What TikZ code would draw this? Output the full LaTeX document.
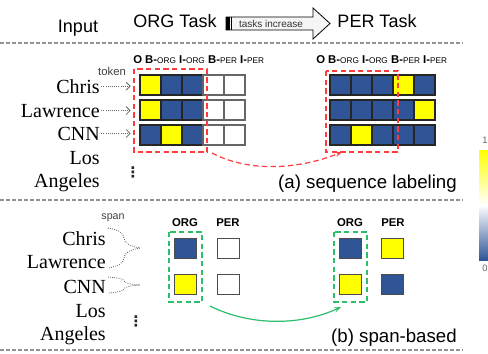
\documentclass[tikz,border=0pt]{standalone}
\usepackage{fontspec}
\setmainfont{Liberation Serif}
\setsansfont{Liberation Sans}
\newfontfamily\symfont{DejaVu Sans}
\usepackage{tikz}
\usepackage{xcolor}
\usetikzlibrary{shapes.geometric, arrows}
\usetikzlibrary{calc}
\usetikzlibrary{decorations.pathreplacing}
\usetikzlibrary{arrows.meta}

\definecolor{cblue}{HTML}{2F5597}
\definecolor{cyellow}{HTML}{FFFF00}
\definecolor{cred}{HTML}{FF3B3B}
\definecolor{cgreen}{HTML}{2DBE6C}

\newcommand{\tagrow}{{\sffamily\fontsize{8.5}{10}\selectfont\textbf{O} \textbf{B-}{\fontsize{6.2}{7}\selectfont ORG} \textbf{I-}{\fontsize{6.2}{7}\selectfont ORG} \textbf{B-}{\fontsize{6.2}{7}\selectfont PER} \textbf{I-}{\fontsize{6.2}{7}\selectfont PER}}}

\begin{document}
\begin{tikzpicture}[x=0.75pt, y=-0.75pt,
    word/.style = {anchor=base east, inner sep=0pt, font=\fontsize{15}{17}\selectfont},
    head/.style = {anchor=base, inner sep=0pt, font=\sffamily\fontsize{13.5}{15}\selectfont},
    small/.style = {inner sep=0pt, font=\sffamily\fontsize{8.5}{10}\selectfont, text=black!75},
    vdot/.style = {inner sep=0pt, font=\symfont\bfseries\fontsize{11}{13}\selectfont, text=black!85},
    cell/.style = {draw=black!85, line width=0.9pt, minimum width=15.75pt, minimum height=15pt, inner sep=0pt, outer sep=0pt},
    bcell/.style = {cell, fill=cblue},
    ycell/.style = {cell, fill=cyellow},
    wcell/.style = {cell, fill=white, draw=black!60},
    sq/.style = {draw=black!70, line width=0.7pt, minimum width=16.5pt, minimum height=15pt, inner sep=0pt},
    sepline/.style = {draw=gray!85, line width=0.9pt, dash pattern=on 3pt off 1.5pt},
    redbox/.style = {draw=cred, line width=0.9pt, dash pattern=on 4pt off 2.5pt},
    greenbox/.style = {draw=cgreen, line width=0.9pt, dash pattern=on 4pt off 2.5pt},
    tokarrow/.style = {draw=black!60, densely dotted, line width=0.6pt, -{Straight Barb[length=3pt]}}]
    \useasboundingbox (0,0) rectangle (488,353);

    % header
    \node[head] at (78, 33) (input) {Input};
    \node[head] at (175, 28) (orgtask) {ORG Task};
    \node[head] at (377, 28) (pertask) {PER Task};
    \draw[fill=gray!8, line width=0.6pt] (226,17) -- (313,17) -- (313,8) -- (330,23.5) -- (313,39) -- (313,30) -- (226,30) -- cycle;
    \fill (226,17) rectangle (230,30);
    \draw[line width=0.5pt] (231.5,17) -- (231.5,30);
    \node[inner sep=0pt, font=\sffamily\fontsize{7.5}{9}\selectfont, text=black!80] at (271, 24) (incr) {tasks increase};

    \draw[sepline] (0,43) -- (463,43);
    \draw[sepline] (0,200) -- (463,200);
    \draw[sepline] (0,350) -- (463,350);

    % (a) sequence labeling
    \node[anchor=base west, inner sep=0pt] at (133, 64) (tagsL) {\tagrow};
    \node[anchor=base west, inner sep=0pt] at (316, 64) (tagsR) {\tagrow};
    \node[small] at (112, 71) (token) {token};

    \node[word] at (100, 93) (chris) {Chris};
    \node[word] at (100, 117) (lawrence) {Lawrence};
    \node[word] at (100, 140) (cnn) {CNN};
    \node[word] at (100, 164) (los) {Los};
    \node[word] at (100, 187) (angeles) {Angeles};
    \node[vdot] at (133, 172) (dotsA) {⋮};

    \foreach \r/\cols in {1/{ycell,bcell,bcell,wcell,wcell}, 2/{ycell,bcell,bcell,wcell,wcell}, 3/{bcell,ycell,bcell,wcell,wcell}} {
        \foreach \st [count=\c] in \cols {
            \node[\st] at ({129.5+21*\c}, {60+25*\r}) (l\r\c) {};
        }
    }
    \foreach \r/\cols in {1/{bcell,bcell,bcell,ycell,bcell}, 2/{bcell,bcell,bcell,bcell,ycell}, 3/{bcell,ycell,bcell,bcell,bcell}} {
        \foreach \st [count=\c] in \cols {
            \node[\st] at ({319.5+21*\c}, {60+25*\r}) (r\r\c) {};
        }
    }

    \draw[tokarrow] ([xshift=1pt]chris.east) -- ([xshift=-7pt]chris.east -| l11.west);
    \draw[tokarrow] ([xshift=1pt]lawrence.east) -- ([xshift=-7pt]lawrence.east -| l21.west);
    \draw[tokarrow] ([xshift=1pt]cnn.east) -- ([xshift=-7pt]cnn.east -| l31.west);

    \draw[redbox] (134,69) rectangle (207,152);
    \draw[redbox] (326,71) rectangle (398,152);
    \coordinate (redfrom) at (212,153);
    \coordinate (redto) at (342,152);
    \draw[cred, line width=0.9pt, dash pattern=on 4pt off 2.5pt, -{Stealth[length=5pt]}] (redfrom) .. controls (250,173) and (300,169) .. (redto);

    \node[anchor=base east, inner sep=0pt, font=\sffamily\fontsize{14}{16}\selectfont] at (457, 188) (seqlab) {(a) sequence labeling};

    % (b) span-based
    \node[small, font=\sffamily\fontsize{8}{9}\selectfont] at (113, 218) (span) {span};
    \node[word] at (106, 245) (chrisB) {Chris};
    \node[word] at (106, 268) (lawrenceB) {Lawrence};
    \node[word] at (106, 293) (cnnB) {CNN};
    \node[word] at (106, 317) (losB) {Los};
    \node[word] at (106, 340) (angelesB) {Angeles};
    \node[vdot] at (136, 321) (dotsB) {⋮};

    \draw[black!65, densely dotted, line width=0.6pt, decorate, decoration={brace, amplitude=24pt}] (108,228) -- (108,268);
    \draw[black!65, densely dotted, line width=0.6pt, decorate, decoration={brace, amplitude=24pt}] (108,277) -- (108,293);

    \node[inner sep=0pt, font=\sffamily\bfseries\fontsize{8.5}{10}\selectfont] at (185, 223) (orgL) {ORG};
    \node[inner sep=0pt, font=\sffamily\bfseries\fontsize{8.5}{10}\selectfont] at (228, 223) (perL) {PER};
    \node[inner sep=0pt, font=\sffamily\bfseries\fontsize{8.5}{10}\selectfont] at (350, 223) (orgR) {ORG};
    \node[inner sep=0pt, font=\sffamily\bfseries\fontsize{8.5}{10}\selectfont] at (393, 223) (perR) {PER};

    \node[sq, fill=cblue] at (185, 248.5) (s11) {};
    \node[sq, fill=cyellow] at (185, 284) (s21) {};
    \node[sq, fill=white] at (228, 248.5) (s12) {};
    \node[sq, fill=white] at (228, 284) (s22) {};
    \node[sq, fill=cblue] at (350.5, 248.5) (t11) {};
    \node[sq, fill=cyellow] at (350.5, 284) (t21) {};
    \node[sq, fill=cyellow] at (392.5, 248.5) (t12) {};
    \node[sq, fill=cblue] at (392.5, 284) (t22) {};

    \draw[greenbox] (169,232) rectangle (202,302);
    \draw[greenbox] (334,232) rectangle (367,302);
    \coordinate (greenfrom) at (210,306);
    \coordinate (greento) at (341,307);
    \draw[cgreen, line width=0.9pt, -{Stealth[length=5pt]}] (greenfrom) .. controls (250,326) and (300,326) .. (greento);

    \node[anchor=base east, inner sep=0pt, font=\sffamily\fontsize{14}{16}\selectfont] at (457, 342) (spanlab) {(b) span-based};

    % colour bar
    \shade[top color=cyellow, bottom color=white] (479,150) rectangle (492,205);
    \shade[top color=white, bottom color=cblue] (479,205) rectangle (492,260);
    \node[inner sep=0pt, font=\sffamily\fontsize{7}{8}\selectfont, text=black!60] at (485, 140) (one) {1};
    \node[inner sep=0pt, font=\sffamily\fontsize{7}{8}\selectfont, text=black!60] at (485, 268) (zero) {0};
\end{tikzpicture}
\end{document}
